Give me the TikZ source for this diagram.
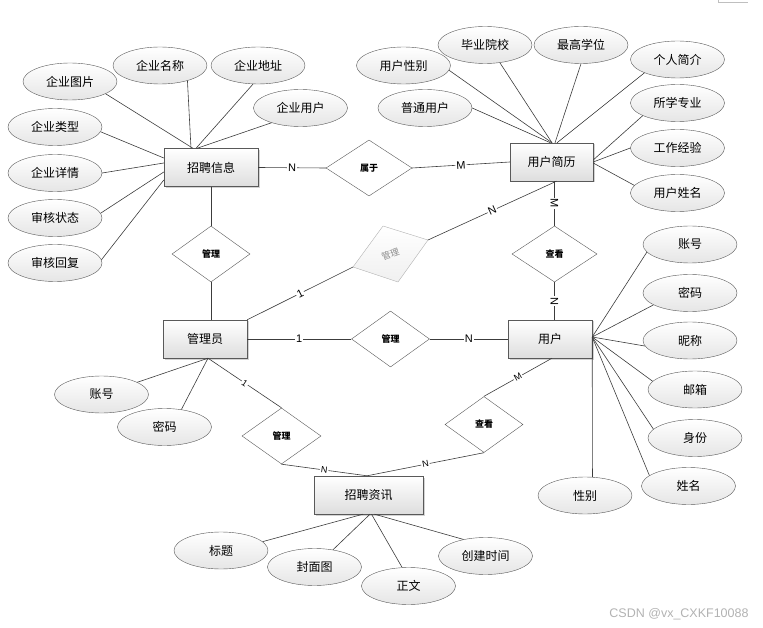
\documentclass[tikz,border=0pt]{standalone}
\usepackage{fontspec}
\setmainfont{Noto Sans CJK SC}
\newfontfamily\latinf{Liberation Sans}
\usetikzlibrary{shapes.geometric,shadows,calc}
\definecolor{ln}{HTML}{3C3C3C}
\begin{document}
\begin{tikzpicture}[x=1pt,y=-1pt,
  ent/.style={draw=ln!85, rectangle, minimum height=38pt, inner sep=0pt,
    top color=white, bottom color=black!13,
    drop shadow={opacity=0.35, shadow xshift=1.5pt, shadow yshift=-1.5pt},
    font=\fontsize{12}{14}\selectfont},
  attr/.style={draw=ln!85, ellipse, minimum width=94pt, minimum height=37pt, inner sep=0pt,
    top color=white, bottom color=black!10, font=\fontsize{12}{14}\selectfont},
  rel/.style={draw=ln!85, diamond, minimum width=78pt, minimum height=56pt, inner sep=0pt,
    fill=white, font=\bfseries\fontsize{9}{10}\selectfont},
  lnk/.style={draw=ln, line width=0.6pt},
  card/.style={fill=white, inner sep=1pt, sloped, font=\latinf\fontsize{11}{11}\selectfont},
  cards/.style={card, font=\latinf\fontsize{9}{9}\selectfont}
]
\useasboundingbox (0,0) rectangle (763,628);

% entities
\node[ent, minimum width=94pt] (zp) at (211,167.5) {招聘信息};
\node[ent, minimum width=83pt] (jl) at (551.5,162) {用户简历};
\node[ent, minimum width=84pt] (gly) at (205,339) {管理员};
\node[ent, minimum width=84pt] (yh) at (550,339) {用户};
\node[ent, minimum width=109pt] (zx) at (368.5,495) {招聘资讯};

% relationships
\node[rel, minimum width=86pt] (sy) at (369,168) {属于};
\node[rel] (gl1) at (211,254) {管理};
\node[rel, minimum width=85pt] (ck1) at (554.5,254) {查看};
\node[rel] (gl2) at (390.5,339) {管理};
\node[rel, minimum width=79pt] (gl3) at (281.5,436) {管理};
\node[rel] (ck2) at (484,424.5) {查看};

% grey tilted relationship
\coordinate (gdc) at (390.5,254);
\coordinate (gdL) at (353,267);
\coordinate (gdT) at (383,226);
\coordinate (gdR) at (428,240);
\coordinate (gdB) at (398,282);
\draw[draw=black!30, top color=white, bottom color=black!6] (gdL) -- (gdT) -- (gdR) -- (gdB) -- cycle;
\node[rotate=20, text=black!45, inner sep=0pt, font=\fontsize{9}{10}\selectfont] (gdt) at (gdc) {管理};

% attributes of 招聘信息
\node[attr] (a1) at (70,81.5) {企业图片};
\node[attr] (a2) at (160,65.5) {企业名称};
\node[attr] (a3) at (258,65.5) {企业地址};
\node[attr] (a4) at (300.5,108) {企业用户};
\node[attr] (a5) at (55,127) {企业类型};
\node[attr] (a6) at (55,173) {企业详情};
\node[attr] (a7) at (55,218) {审核状态};
\node[attr] (a8) at (55,263) {审核回复};

% attributes of 用户简历
\node[attr] (b1) at (403.5,65.5) {用户性别};
\node[attr] (b2) at (485,45) {毕业院校};
\node[attr] (b3) at (581,45) {最高学位};
\node[attr] (b4) at (677.5,59.5) {个人简介};
\node[attr] (b5) at (425,108) {普通用户};
\node[attr] (b6) at (677.5,103) {所学专业};
\node[attr] (b7) at (677.5,148) {工作经验};
\node[attr] (b8) at (677.5,193) {用户姓名};

% attributes of 用户
\node[attr] (c1) at (690,244.5) {账号};
\node[attr] (c2) at (690,293) {密码};
\node[attr] (c3) at (690,340.5) {昵称};
\node[attr] (c4) at (695,389.5) {邮箱};
\node[attr] (c5) at (695,438) {身份};
\node[attr] (c6) at (688.5,486) {姓名};
\node[attr] (c7) at (585,495.5) {性别};

% attributes of 管理员
\node[attr] (d1) at (101.5,394.5) {账号};
\node[attr] (d2) at (164.5,427) {密码};

% attributes of 招聘资讯
\node[attr] (e1) at (221,550.5) {标题};
\node[attr] (e2) at (314.5,567) {封面图};
\node[attr] (e3) at (408.5,586) {正文};
\node[attr] (e4) at (485.5,556) {创建时间};

% attribute links
\draw[lnk] (a1.-19) -- ($(zp.north)+(-18,0)$);
\draw[lnk] (a2.-29) -- ($(zp.north)+(-20,0)$);
\draw[lnk] (a3.-105) -- ($(zp.north)+(-15,0)$);
\draw[lnk] (a4.-153) -- ($(zp.north)+(-14,0)$);
\draw[lnk] (a5.-6) -- ($(zp.west)+(0,-9.5)$);
\draw[lnk] (a6.east) -- ($(zp.west)+(0,-4.5)$);
\draw[lnk] (a7.6) -- ($(zp.west)+(0,4.5)$);
\draw[lnk] (a8.4) -- ($(zp.west)+(0,12.5)$);

\draw[lnk] (b1.-6) -- ($(jl.north)+(0.5,0)$);
\draw[lnk] (b2.-50) -- ($(jl.north)+(0.5,0)$);
\draw[lnk] (b5.east) -- ($(jl.north)+(-1,0)$);
\draw[lnk] (b3.south) -- ($(jl.north)+(3.5,0)$);
\draw[lnk] (b4.-158) -- ($(jl.north)+(5.5,0)$);
\draw[lnk] (b6.-160) -- ($(jl.east)+(0,-2)$);
\draw[lnk] (b7.west) -- (jl.east);
\draw[lnk] (b8.170) -- ($(jl.east)+(0,1)$);

\coordinate (yhr) at ($(yh.east)+(0,-2)$);
\draw[lnk] (c1.-170) -- (yhr);
\draw[lnk] (c2.-162) -- (yhr);
\draw[lnk] (c3.-173) -- (yhr);
\draw[lnk] (c4.169) -- (yhr);
\draw[lnk] (c5.168) -- (yhr);
\draw[lnk] (c6.165) -- (yhr);
\draw[lnk] (c7.68) -- (yhr);

\coordinate (glyb) at ($(gly.south)+(3,0)$);
\draw[lnk] (d1) -- (glyb);
\draw[lnk] (d2.46) -- (glyb);

\draw[lnk] (e1.12) -- ($(zx.south)+(-5.5,0)$);
\draw[lnk] (e2.43) -- ($(zx.south)+(1.5,0)$);
\draw[lnk] (e3.109) -- ($(zx.south)+(3,0)$);
\draw[lnk] (e4.143) -- ($(zx.south)+(6,0)$);

% relationship links
\draw[lnk] (zp.south) -- (gl1.north);
\draw[lnk] (gl1.south) -- ($(gly.north)+(6,0)$);
\draw[lnk] (zp.east) -- node[card]{N} (sy.west);
\draw[lnk] (sy.east) -- node[card]{M} (jl.west);
\draw[lnk] (gly.north east) -- node[card]{1} (gdL);
\draw[lnk] (gdR) -- node[card]{N} ($(jl.south)+(5,0)$);
\draw[lnk] ($(jl.south)+(3,0)$) -- node[card]{M} (ck1.north);
\draw[lnk] (ck1.south) -- node[card]{N} ($(yh.north)+(4.5,0)$);
\draw[lnk] (gly.east) -- node[card]{1} (gl2.west);
\draw[lnk] (gl2.east) -- node[card]{N} (yh.west);
\draw[lnk] (glyb) -- node[cards]{1} (gl3.north);
\coordinate (zxt) at ($(zx.north)+(-1.5,0)$);
\draw[lnk] (gl3.south) -- node[cards]{N} (zxt);
\draw[lnk] (ck2.south) -- node[cards]{N} (zxt);
\draw[lnk] (ck2.north) -- node[cards]{M} ($(yh.south)+(2,0)$);

% watermark and corner mark
\node[font=\latinf\fontsize{12.5}{13}\selectfont, text=black!30] (wm) at (679,614.5) {CSDN @vx\_CXKF10088};
\coordinate (m1) at (718,0);
\coordinate (m2) at (718,2);
\coordinate (m3) at (748,2);
\draw[black!25, line width=0.6pt] (m1) -- (m2) -- (m3);
\end{tikzpicture}
\end{document}
